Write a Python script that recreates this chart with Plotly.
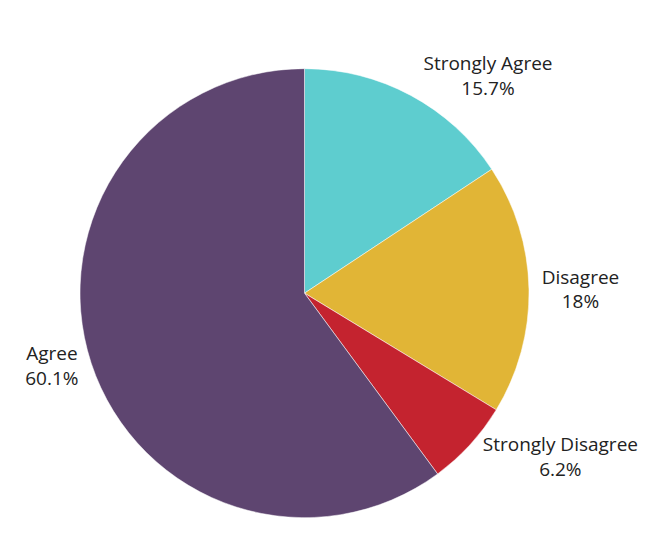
import plotly.graph_objects as go

labels = ["Strongly Agree", "Disagree", "Strongly Disagree", "Agree"]
values = [15.7, 18, 6.2, 60.1]
colors = ["#5ECDCF", "#E1B536", "#C4232F", "#5E4570"]

fig = go.Figure(go.Pie(
    labels=labels,
    values=values,
    sort=False,
    direction="clockwise",
    rotation=0,
    marker=dict(colors=colors, line=dict(color="#ffffff", width=0.5)),
    textposition="outside",
    texttemplate="%{label}<br>%{value}%",
    textfont=dict(family="Open Sans", size=19, color="#222222"),
    showlegend=False,
    hoverinfo="label+percent",
    domain=dict(x=[0, 1], y=[0, 0.94]),
))
fig.update_layout(
    width=648, height=543,
    margin=dict(l=0, r=0, t=0, b=0),
    paper_bgcolor="white",
    font=dict(family="Open Sans"),
)
fig.write_html("out.html")
